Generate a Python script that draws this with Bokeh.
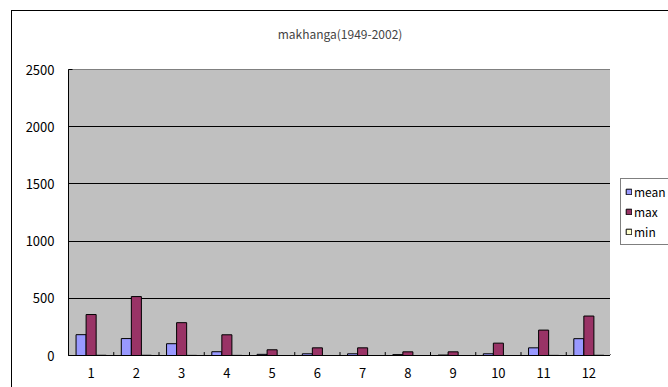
from bokeh.plotting import figure
from bokeh.layouts import row
from bokeh.models import (ColumnDataSource, FactorRange, Range1d, Legend, LegendItem,
                          FixedTicker, Title)
from bokeh.transform import dodge
from bokeh.embed import file_html
from bokeh.resources import INLINE

# Monthly flow statistics, makhanga station (1949-2002)
months = [str(m) for m in range(1, 13)]
mean_vals = [182, 148, 103, 33, 10, 15, 15, 8, 4, 15, 67, 147]
max_vals = [358, 515, 287, 181, 50, 67, 67, 32, 32, 108, 222, 345]
min_vals = [2, 2, 1, 1, 0, 0, 0, 0, 0, 0, 1, 2]
y_ticks = [0, 500, 1000, 1500, 2000, 2500]

series = ["mean", "max", "min"]
colors = ["#9999FF", "#993366", "#FFFFCC"]

FONT = "Noto Sans CJK JP"

src = ColumnDataSource(dict(m=months, mean=mean_vals, max=max_vals, min=min_vals,
                            zero=[0] * len(months)))

p = figure(frame_width=542, frame_height=285, output_backend="svg", toolbar_location=None,
           x_range=FactorRange(*months, range_padding=0), y_range=Range1d(0, 2500),
           min_border_left=56, min_border_right=0, min_border_top=58, min_border_bottom=33)

# chart frame: thin border along the top and left of the chart
p.margin = (10, 0, 0, 11)
p.styles = {"border-left": "1px solid black", "border-top": "1px solid black"}

p.background_fill_color = "#C0C0C0"
p.border_fill_color = "white"
p.outline_line_color = "#808080"
p.outline_line_width = 1

bw = 0.222
offsets = [-bw, 0, bw]
for name, color, off in zip(series, colors, offsets):
    p.vbar(x=dodge("m", off, range=p.x_range), top=name, width=bw, source=src,
           fill_color=color, line_color="black", line_width=1)

# small tick marks between month categories
p.segment(x0=dodge("m", 0.5, range=p.x_range), x1=dodge("m", 0.5, range=p.x_range),
          y0="zero", y1=30, source=src, line_color="black", line_width=1)

p.xgrid.visible = False
p.ygrid.ticker = FixedTicker(ticks=y_ticks)
p.ygrid.grid_line_color = "black"
p.ygrid.grid_line_width = 1

p.yaxis.ticker = FixedTicker(ticks=y_ticks)
for ax in (p.xaxis[0], p.yaxis[0]):
    ax.axis_line_color = "black"
    ax.major_label_text_font = FONT
    ax.major_label_text_font_size = "13px"
    ax.major_label_text_color = "black"
    ax.minor_tick_line_color = None

p.yaxis.major_tick_in = 4
p.yaxis.major_tick_out = 0
p.yaxis.major_label_standoff = 14
p.xaxis.major_tick_line_color = None
p.xaxis.major_label_standoff = 6

# second (blank) line gives the title its breathing room above the plot
p.title = Title(text="makhanga(1949-2002)\n\u00a0", align="center", text_font=FONT,
                text_font_size="12px", text_font_style="normal", offset=6,
                text_line_height=1.0, standoff=21)

# legend lives in its own narrow strip to the right of the plot
leg = figure(width=58, height=376, output_backend="svg", toolbar_location=None,
             x_range=Range1d(0, 1), y_range=Range1d(0, 1),
             x_axis_location=None, y_axis_location=None, min_border=0)
leg.margin = (10, 0, 0, 0)
leg.styles = {"border-top": "1px solid black"}
leg.outline_line_color = None
leg.xgrid.visible = False
leg.ygrid.visible = False
leg.border_fill_color = "white"
leg.background_fill_color = "white"

# swatch holders for the legend (kept outside the strip's visible range)
items = []
for name, color in zip(series, colors):
    r = leg.vbar(x=[-5], top=[-5], bottom=[-5], width=0.1, fill_color=color,
                 line_color="black", line_width=1)
    items.append(LegendItem(label=name, renderers=[r]))

legend = Legend(items=items, location=(10, 109), border_line_color="black",
                border_line_width=1, background_fill_color="white", background_fill_alpha=1,
                label_text_font=FONT, label_text_font_size="12px", label_text_color="black",
                glyph_width=7, glyph_height=7, label_standoff=2, spacing=3,
                padding=4, margin=0, label_height=15)
leg.add_layout(legend, "center")

layout = row(p, leg, spacing=0)
open("out.html", "w").write(file_html(layout, INLINE))
